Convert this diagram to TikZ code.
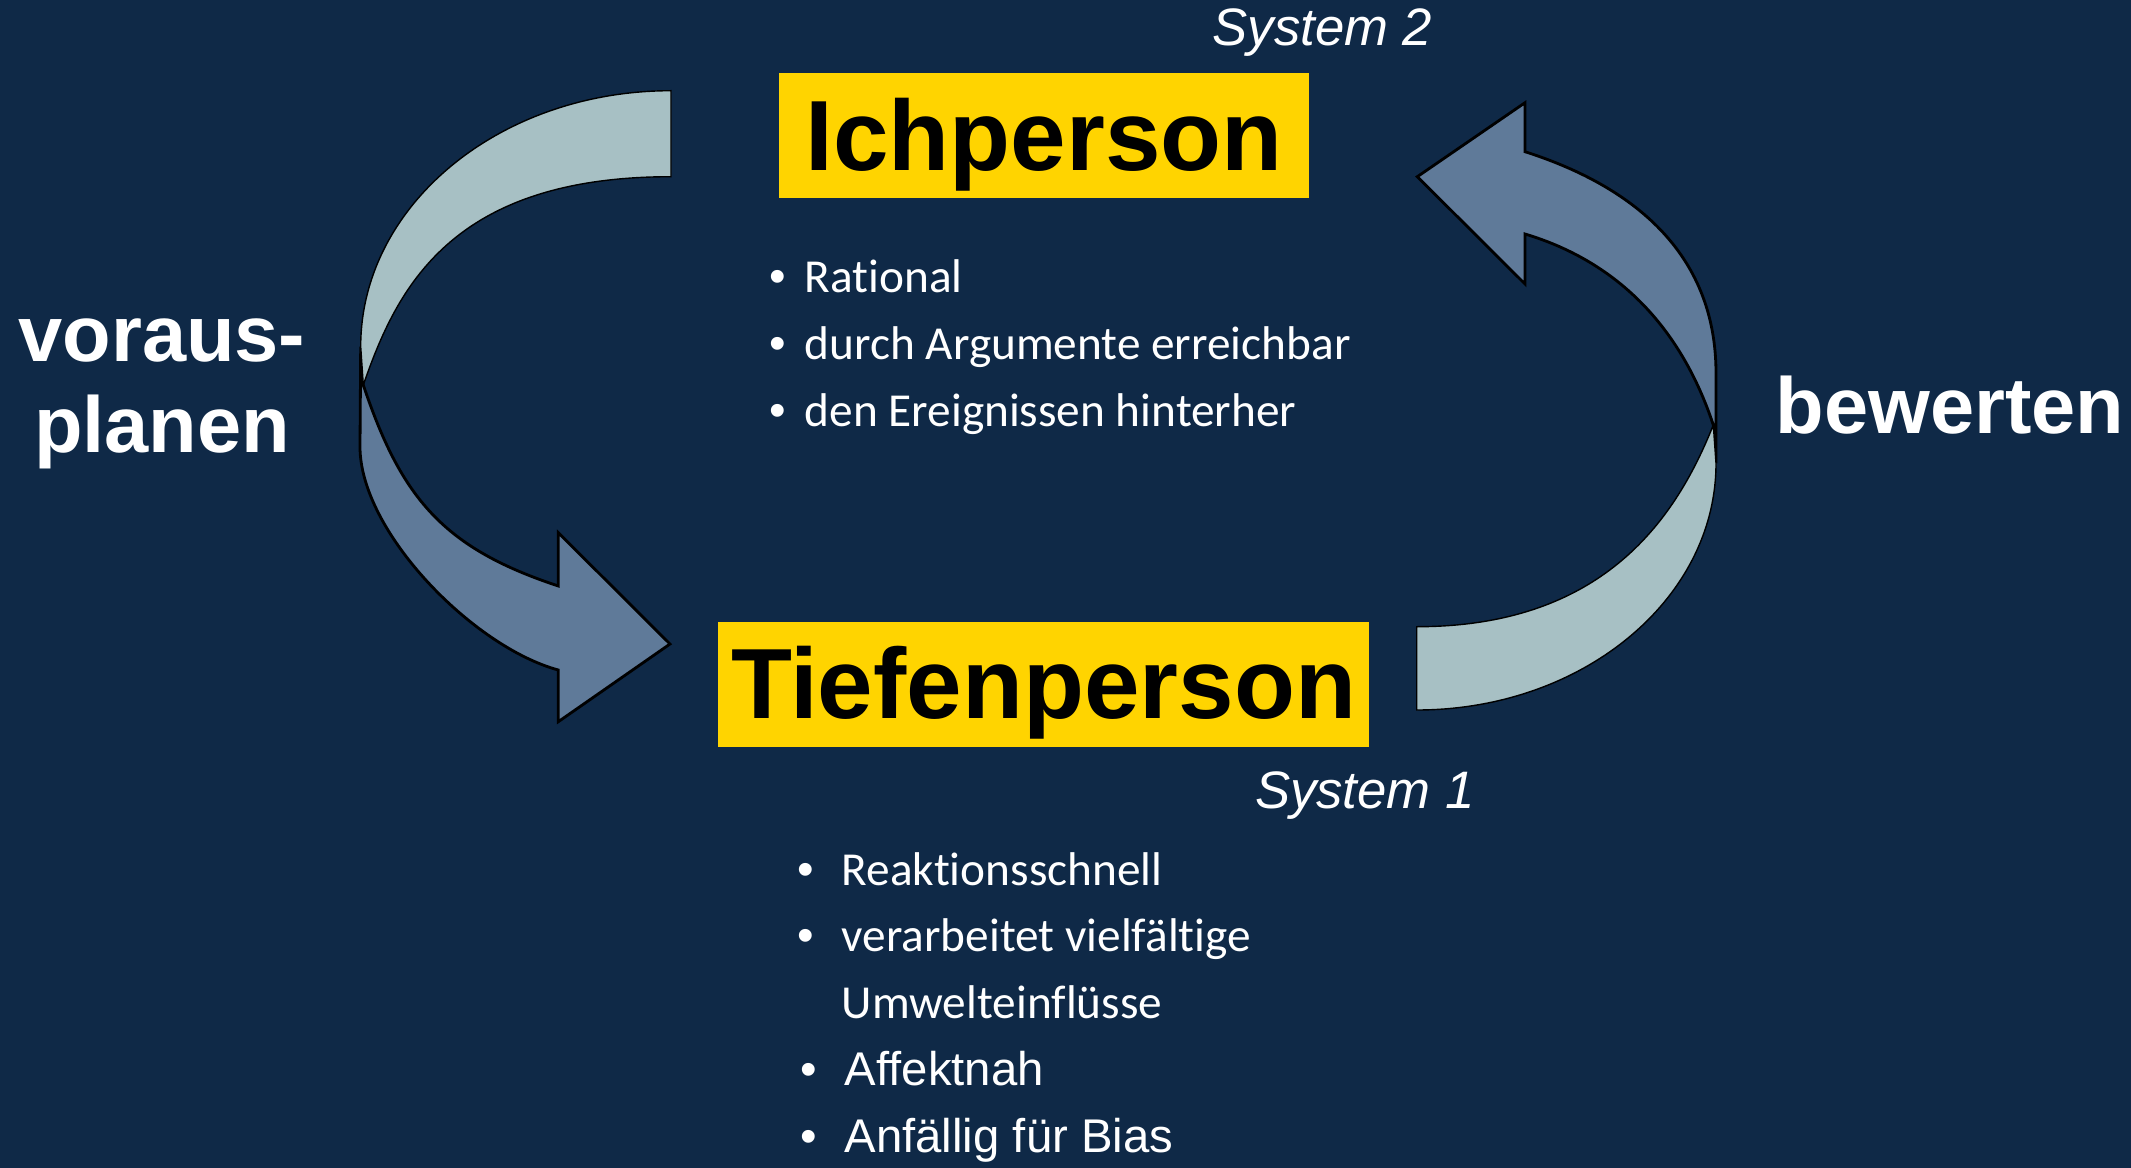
\documentclass[tikz,border=0pt]{standalone}
\usepackage{fontspec}
\setmainfont{Liberation Sans}
\newfontfamily\gillfont[Ligatures=NoCommon]{Carlito}

\definecolor{slidebg}{RGB}{15,41,71}
\definecolor{bandlight}{RGB}{167,192,196}
\definecolor{banddark}{RGB}{95,122,153}
\definecolor{boxyellow}{RGB}{255,212,0}

\newcommand{\itemdot}[1]{\llap{{\normalfont •}\hspace{#1}}}

\tikzset{
	titlebox/.style={fill=boxyellow, text=black, inner sep=0pt, text height=0.97cm, text depth=0.28cm, font={\fontsize{28.4}{30}\selectfont\bfseries}},
	syslabel/.style={text=white, inner sep=0pt, anchor=base east, font={\fontsize{15}{18}\selectfont\itshape}},
	verblabel/.style={text=white, inner sep=0pt, align=center, font={\fontsize{22.6}{25.9}\selectfont\bfseries}},
	bullettext/.style={text=white, inner sep=0pt, anchor=base west, font={\gillfont\fontsize{13.46}{16}\selectfont}},
	ariallist/.style={bullettext, font={\normalfont\fontsize{13.46}{16}\selectfont}},
	lightband/.style={fill=bandlight, draw=black, line width=0.4pt},
	darkband/.style={fill=banddark, draw=black, line width=0.8pt, line join=miter}
}

\begin{document}
\begin{tikzpicture}[x=0.1mm, y=-0.1mm]
	%slide background
	\fill[slidebg] (0,0) rectangle (2131,1168);
	\useasboundingbox (0,0) rectangle (2131,1168);

	%left arrow: ichperson -> tiefenperson
	\draw[darkband] (360.7,346.7) -- (360,446.7) .. controls (360,531.7) and (473.3,647) .. (558.3,670)
		-- (558.3,721.7) -- (670,644) -- (558.3,532.7) -- (558.3,586)
		.. controls (443.3,548) and (401.3,498.3) .. (363.3,385) -- cycle;
	\draw[lightband] (671,90.7) .. controls (499.6,90.7) and (360.7,205.3) .. (360.7,346.7)
		-- (363.3,385) .. controls (396.5,289.4) and (450,176.7) .. (671,176.7) -- cycle;

	%right arrow: tiefenperson -> ichperson
	\draw[darkband] (1716,463.3) -- (1716,373.3) .. controls (1716,258.3) and (1640,188.5) .. (1525,151.7)
		-- (1525,102.7) -- (1417.3,176.7) -- (1525,284) -- (1525,234)
		.. controls (1620,262.5) and (1681.9,330) .. (1713.3,425) -- cycle;
	\draw[lightband] (1416.7,710) .. controls (1582,710) and (1716,599.6) .. (1716,463.3)
		-- (1713.3,425) .. controls (1677.3,515) and (1606.7,626.7) .. (1416.7,626.7) -- cycle;

	%the two persons
	\node[titlebox, minimum width=5.30cm] (ich) at (1044,135.5) {Ichperson};
	\node[titlebox, minimum width=6.51cm] (tiefen) at (1043.5,684) {Tiefenperson};
	\node[syslabel] (sys2) at (1433,45.7) {System 2};
	\node[syslabel] (sys1) at (1475.5,808.3) {System 1};

	%side labels
	\node[verblabel, anchor=base] (plan) at (162,452.7) {voraus-\\planen};
	\node[verblabel, anchor=base] (bew) at (1950,433.3) {bewerten};

	%system 2 list
	\node[bullettext] (ratio) at (804,292.7) {\itemdot{0.187cm}Rational};
	\node[bullettext] (argu) at (804,359.3) {\itemdot{0.187cm}durch Argumente erreichbar};
	\node[bullettext] (hinter) at (804,426) {\itemdot{0.187cm}den Ereignissen hinterher};

	%system 1 list
	\node[bullettext] (schnell) at (841,885.1) {\itemdot{0.28cm}Reaktionsschnell};
	\node[bullettext] (vielf) at (841,951.4) {\itemdot{0.28cm}verarbeitet vielfältige};
	\node[bullettext] (umwelt) at (841,1018.5) {Umwelteinflüsse};
	\node[ariallist] (affekt) at (844,1085.5) {\itemdot{0.28cm}Affektnah};
	\node[ariallist] (bias) at (844,1152.5) {\itemdot{0.28cm}Anfällig für Bias};
\end{tikzpicture}
\end{document}
